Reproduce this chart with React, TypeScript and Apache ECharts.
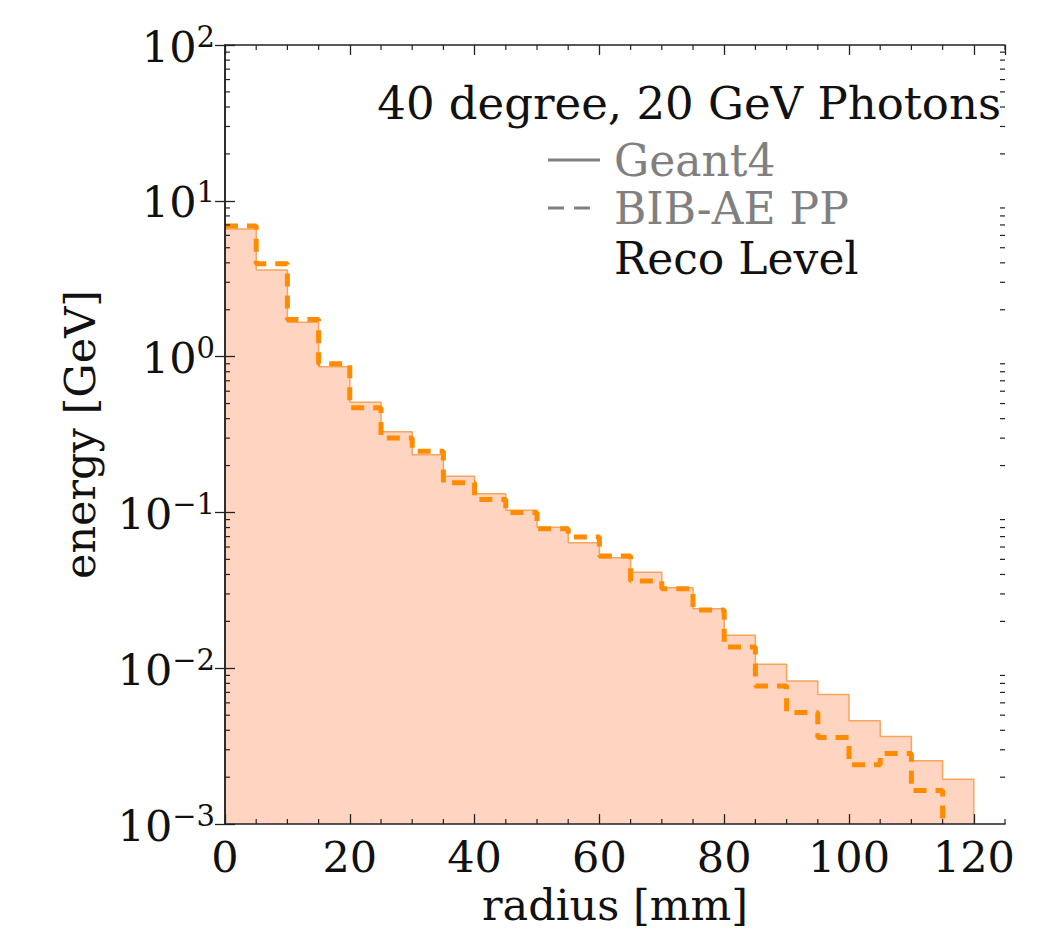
import React, { useEffect, useRef } from 'react';
import * as echarts from 'echarts';

// Histogram bin edges (radius, mm)
const binEdges = [0, 5, 10, 15, 20, 25, 30, 35, 40, 45, 50, 55, 60, 65, 70, 75, 80, 85, 90, 95, 100, 105, 110, 115, 120];

// Geant4 energy per bin (GeV)
const geant4 = [6.6, 3.6, 1.66, 0.86, 0.51, 0.33, 0.235, 0.171, 0.132, 0.1035, 0.0805, 0.064, 0.0513, 0.0414, 0.0329, 0.0241, 0.0163, 0.0106, 0.0083, 0.0068, 0.0046, 0.00365, 0.00255, 0.00194];

// BIB-AE PP energy per bin (GeV); empty beyond 115 mm
const bibae = [6.9, 3.95, 1.73, 0.9, 0.47, 0.3, 0.247, 0.155, 0.121, 0.1, 0.0786, 0.0695, 0.0525, 0.0363, 0.0324, 0.0237, 0.0137, 0.0077, 0.0052, 0.0036, 0.0024, 0.00284, 0.00164];

// Axis ticks
const xTicks = [0, 20, 40, 60, 80, 100, 120];
const xMinorTicks = [5, 10, 15, 25, 30, 35, 45, 50, 55, 65, 70, 75, 85, 90, 95, 105, 110, 115, 125];
const yDecades = [-3, -2, -1, 0, 1, 2];
const yMinorFactors = [2, 3, 4, 5, 6, 7, 8, 9];

const Y_MIN = 0.001;
const Y_MAX = 100;
const X_MIN = 0;
const X_MAX = 125;

const FONT = '"DejaVu Serif", "Liberation Serif", serif';

function stepPoints(vals: number[]): number[][] {
  const pts = vals.map((v, i) => [binEdges[i], v]);
  pts.push([binEdges[vals.length], Y_MIN]);
  return pts;
}

function supLabel(v: number): string {
  const e = Math.round(Math.log10(v));
  const s = e < 0 ? '\u2212' + Math.abs(e) : String(e);
  return '{a|10}{b|' + s + '}';
}

export default function App() {
  const ref = useRef<HTMLDivElement>(null);

  useEffect(() => {
    document.body.style.margin = '0';
    if (!ref.current) return;
    const chart = echarts.init(ref.current, undefined, { renderer: 'svg' });

    const yMinorData: number[][] = [];
    yDecades.slice(0, -1).forEach((d) => {
      yMinorFactors.forEach((f) => yMinorData.push([0, f * Math.pow(10, d)]));
    });
    const xMinorData = xMinorTicks.map((x) => [x, Y_MIN]);

    const axisLine = { show: true, lineStyle: { color: '#222', width: 1.5 } };
    const majorTick = { show: true, inside: true, length: 10, lineStyle: { color: '#222', width: 1.3 } };

    const option: any = {
      animation: false,
      backgroundColor: '#fff',
      grid: { left: 225, top: 45, width: 780, height: 780, containLabel: false },
      xAxis: [
        {
          type: 'value',
          z: 10,
          min: X_MIN,
          max: X_MAX,
          interval: 20,
          position: 'bottom',
          name: 'radius [mm]',
          nameLocation: 'middle',
          nameGap: 55,
          nameTextStyle: { fontFamily: FONT, fontSize: 43, color: '#111' },
          axisLine,
          axisTick: majorTick,
          splitLine: { show: false },
          axisLabel: {
            show: true,
            margin: 11,
            fontFamily: FONT,
            fontSize: 43,
            color: '#111',
            showMaxLabel: false,
            formatter: (v: number) => (xTicks.indexOf(v) >= 0 ? String(v) : ''),
          },
        },
        {
          type: 'value',
          z: 10,
          min: X_MIN,
          max: X_MAX,
          interval: 20,
          position: 'top',
          axisLine,
          axisTick: majorTick,
          splitLine: { show: false },
          axisLabel: { show: false },
        },
      ],
      yAxis: [
        {
          type: 'log',
          z: 10,
          logBase: 10,
          min: Y_MIN,
          max: Y_MAX,
          interval: 1,
          position: 'left',
          name: 'energy [GeV]',
          nameLocation: 'middle',
          nameGap: 124,
          nameRotate: 90,
          nameTextStyle: { fontFamily: FONT, fontSize: 43, color: '#111' },
          axisLine,
          axisTick: majorTick,
          splitLine: { show: false },
          axisLabel: {
            show: true,
            margin: 10,
            color: '#111',
            formatter: supLabel,
            rich: {
              a: { fontFamily: FONT, fontSize: 43, color: '#111', verticalAlign: 'bottom' },
              b: { fontFamily: FONT, fontSize: 29, color: '#111', verticalAlign: 'bottom', padding: [0, 0, 17, 0] },
            },
          },
        },
        {
          type: 'log',
          z: 10,
          logBase: 10,
          min: Y_MIN,
          max: Y_MAX,
          interval: 1,
          position: 'right',
          axisLine,
          axisTick: majorTick,
          splitLine: { show: false },
          axisLabel: { show: false },
        },
      ],
      series: [
        {
          name: 'Geant4',
          type: 'line',
          step: 'end',
          data: stepPoints(geant4),
          symbol: 'none',
          lineStyle: { color: '#f6a55c', width: 1.5 },
          areaStyle: { color: '#ffd5c2', opacity: 1, origin: 'start' },
          z: 2,
        },
        {
          name: 'BIB-AE PP',
          type: 'line',
          step: 'end',
          data: stepPoints(bibae),
          symbol: 'none',
          lineStyle: { color: '#ff8c00', width: 5, type: [13, 9] },
          z: 3,
        },
        {
          name: 'yMinor',
          type: 'custom',
          silent: true,
          z: 12,
          data: yMinorData,
          renderItem: (params: any, api: any) => {
            const cs = params.coordSys;
            const p = api.coord([api.value(0), api.value(1)]);
            const st = { stroke: '#222', lineWidth: 1.2 };
            return {
              type: 'group',
              children: [
                { type: 'line', shape: { x1: cs.x, y1: p[1], x2: cs.x + 5, y2: p[1] }, style: st },
                { type: 'line', shape: { x1: cs.x + cs.width, y1: p[1], x2: cs.x + cs.width - 5, y2: p[1] }, style: st },
              ],
            };
          },
        },
        {
          name: 'xMinor',
          type: 'custom',
          silent: true,
          z: 12,
          data: xMinorData,
          renderItem: (params: any, api: any) => {
            const cs = params.coordSys;
            const p = api.coord([api.value(0), api.value(1)]);
            const st = { stroke: '#222', lineWidth: 1.2 };
            return {
              type: 'group',
              children: [
                { type: 'line', shape: { x1: p[0], y1: cs.y + cs.height, x2: p[0], y2: cs.y + cs.height - 5 }, style: st },
                { type: 'line', shape: { x1: p[0], y1: cs.y, x2: p[0], y2: cs.y + 5 }, style: st },
              ],
            };
          },
        },
      ],
      graphic: [
        {
          type: 'text',
          x: 1001,
          y: 103,
          z: 10,
          style: {
            text: '40 degree, 20 GeV Photons',
            font: '45px ' + FONT,
            fill: '#111',
            textAlign: 'right',
            textVerticalAlign: 'middle',
            align: 'right',
            verticalAlign: 'middle',
          },
        },
        {
          type: 'line',
          z: 10,
          shape: { x1: 548, y1: 160, x2: 600, y2: 160 },
          style: { stroke: '#808080', lineWidth: 3 },
        },
        {
          type: 'text',
          x: 614,
          y: 160,
          z: 10,
          style: { text: 'Geant4', font: '44px ' + FONT, fill: '#808080', textVerticalAlign: 'middle', verticalAlign: 'middle' },
        },
        {
          type: 'line',
          z: 10,
          shape: { x1: 548, y1: 208, x2: 600, y2: 208 },
          style: { stroke: '#808080', lineWidth: 3, lineDash: [16, 10] },
        },
        {
          type: 'text',
          x: 614,
          y: 208,
          z: 10,
          style: { text: 'BIB-AE PP', font: '44px ' + FONT, fill: '#808080', textVerticalAlign: 'middle', verticalAlign: 'middle' },
        },
        {
          type: 'text',
          x: 614,
          y: 258,
          z: 10,
          style: { text: 'Reco Level', font: '44px ' + FONT, fill: '#111', textVerticalAlign: 'middle', verticalAlign: 'middle' },
        },
      ],
    };

    chart.setOption(option);
    return () => chart.dispose();
  }, []);

  return <div ref={ref} style={{ width: 1046, height: 931 }} />;
}
